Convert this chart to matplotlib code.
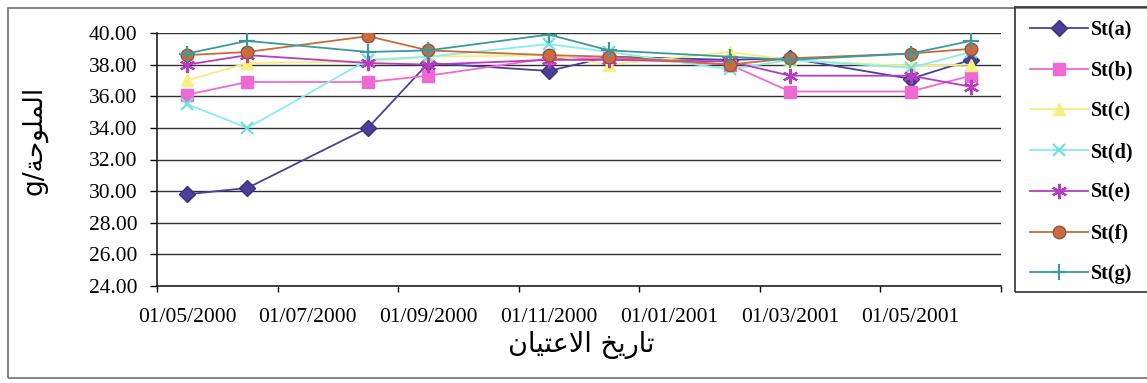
import numpy as np
import pandas as pd
import matplotlib
matplotlib.use("Agg")
import matplotlib.pyplot as plt
from matplotlib.patches import Rectangle
from matplotlib.ticker import FormatStrFormatter, FixedLocator

# sampling months (one sample per month)
sample_months = ['2000-05', '2000-06', '2000-08', '2000-09', '2000-11',
                 '2000-12', '2001-02', '2001-03', '2001-05', '2001-06']

# salinity g/l per station
st_a = [29.8, 30.2, 34.0, 38.1, 37.6, 38.5, 38.3, 38.4, 37.1, 38.3]
st_b = [36.1, 36.9, 36.9, 37.3, 38.4, 38.4, 38.0, 36.3, 36.3, 37.3]
st_c = [37.0, 38.1, 38.2, 38.5, 38.6, 38.0, 38.8, 38.3, 37.9, 38.0]
st_d = [35.5, 34.0, 38.3, 38.5, 39.3, 38.8, 37.7, 38.3, 37.8, 38.8]
st_e = [38.0, 38.6, 38.1, 38.0, 38.3, 38.3, 38.2, 37.3, 37.3, 36.6]
st_f = [38.6, 38.8, 39.8, 38.9, 38.6, 38.5, 38.0, 38.4, 38.7, 39.0]
st_g = [38.7, 39.5, 38.8, 38.9, 39.9, 38.9, 38.5, 38.3, 38.7, 39.5]

names = ['St(a)', 'St(b)', 'St(c)', 'St(d)', 'St(e)', 'St(f)', 'St(g)']
series = [st_a, st_b, st_c, st_d, st_e, st_f, st_g]

# x tick labels every two months
tick_labels = ['01/05/2000', '01/07/2000', '01/09/2000', '01/11/2000',
               '01/01/2001', '01/03/2001', '01/05/2001']

# Arabic strings already shaped (presentation forms, visual order)
xlabel_txt = '\uFEE5\uFE8E\uFEF4\uFE98\uFECB\uFEFB\uFE8D \uFEA6\uFEF3\uFEAD\uFE8E\uFE97'
ylabel_txt = 'g/\uFE94\uFEA3\uFEEE\uFEE0\uFEE4\uFEDF\uFE8D'

styles = [
    dict(color='#4B3F99', marker='D', ms=8, mfc='#4B3F99', mec='#3A3080'),
    dict(color='#EE6AD2', marker='s', ms=9, mfc='#EE6AD2', mec='#EE6AD2'),
    dict(color='#F4EE80', marker='^', ms=9, mfc='#F6F080', mec='#F6F080'),
    dict(color='#88ECEC', marker='x', ms=9, mfc='#88ECEC', mec='#70E0E0', mew=1.6),
    dict(color='#B63CC0', marker=(6, 2, 0), ms=11, mfc='#B63CC0', mec='#B63CC0', mew=1.6),
    dict(color='#C86A3C', marker='o', ms=9, mfc='#D06840', mec='#8A5A40'),
    dict(color='#3A9A9A', marker='+', ms=11, mfc='#3A9A9A', mec='#3A9A9A', mew=1.6),
]

base = pd.Period('2000-05', freq='M')
x = np.array([(pd.Period(m, freq='M') - base).n for m in sample_months])

W, H = 1147, 383
fig = plt.figure(figsize=(W / 100, H / 100), dpi=100)
serif = ['Liberation Serif', 'DejaVu Serif']

ax = fig.add_axes([157 / W, 1 - 286 / H, (1001 - 157) / W, (286 - 33) / H])
for name, vals, st in zip(names, series, styles):
    ax.plot(x, vals, lw=1.3, label=name, **st)

ax.set_ylim(24, 40)
ax.set_xlim(-0.5, 13.5)
ax.set_yticks(np.arange(24, 40.1, 2))
ax.yaxis.set_major_formatter(FormatStrFormatter('%.2f'))
ax.grid(axis='y', color='#303030', lw=1.0)
ax.set_axisbelow(True)

# tick marks between months, labels on month centres
ax.xaxis.set_major_locator(FixedLocator(np.arange(-0.5, 13.6, 2)))
ax.xaxis.set_minor_locator(FixedLocator(np.arange(0, 13, 2)))
ax.set_xticklabels([], minor=False)
ax.set_xticklabels(tick_labels, minor=True)
ax.tick_params(axis='x', which='major', direction='out', length=4, width=1)
ax.tick_params(axis='x', which='minor', length=0, pad=16)
ax.tick_params(axis='y', direction='out', length=5, width=1, pad=9)
for lbl in ax.get_xticklabels(minor=True) + ax.get_yticklabels():
    lbl.set_family(serif)
    lbl.set_fontsize(15.5)

for s in ['top', 'right']:
    ax.spines[s].set_visible(False)
for s in ['left', 'bottom']:
    ax.spines[s].set_color('#202020')
    ax.spines[s].set_linewidth(1.2)

fig.text(581 / W, 1 - 345 / H, xlabel_txt, ha='center', va='center',
         fontsize=19.5, family=['DejaVu Sans'])
fig.text(34 / W, 1 - 140 / H, ylabel_txt, ha='center', va='center',
         rotation=90, fontsize=19, family=['DejaVu Sans'])

# outer chart border
fig.patches.append(Rectangle((8 / W, 1 - 378 / H), (W + 10 - 8) / W, (378 - 8) / H,
                             transform=fig.transFigure, fill=False,
                             edgecolor='#707070', lw=1.2))
# legend frame
fig.patches.append(Rectangle((1015 / W, 1 - 292 / H), (W + 10 - 1015) / W, (292 - 7) / H,
                             transform=fig.transFigure, fill=False,
                             edgecolor='#303030', lw=1.2))

leg = ax.legend(loc='upper left', bbox_to_anchor=(1030 / W, 1 - 20 / H),
                bbox_transform=fig.transFigure, frameon=False,
                borderpad=0, borderaxespad=0, handlelength=2.9,
                handletextpad=0.15, labelspacing=1.03,
                prop=dict(family=serif, size=14.5, weight='bold'))

fig.savefig('out.png', dpi=100)
